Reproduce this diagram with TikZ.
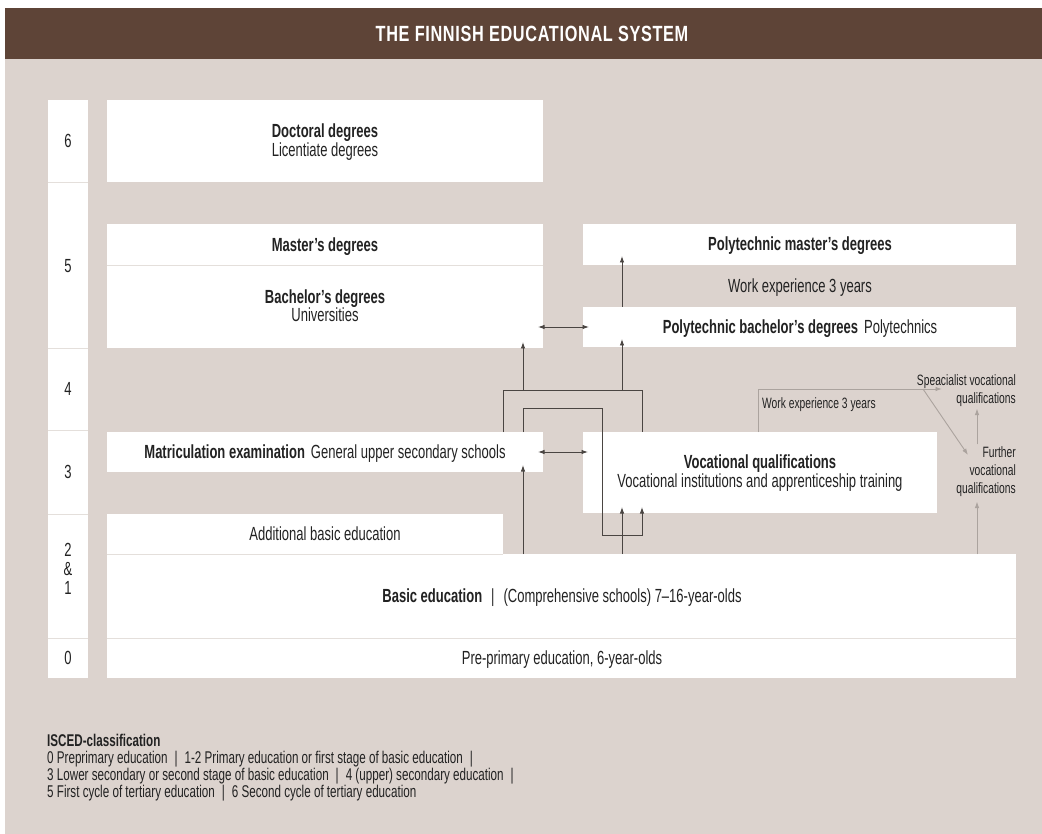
\documentclass[tikz,border=0pt]{standalone}
\usepackage{fontspec}
\setmainfont[FakeStretch=0.685]{Liberation Sans}
\newfontfamily\titlefont[FakeStretch=0.74,LetterSpace=3]{Liberation Sans}
\usetikzlibrary{arrows.meta,calc}
\definecolor{hdr}{HTML}{5E4437}
\definecolor{tanbg}{HTML}{DCD3CE}
\definecolor{ink}{HTML}{222222}
\definecolor{lnk}{HTML}{4A4542}
\definecolor{lgt}{HTML}{ABA39E}
\definecolor{sepc}{HTML}{E4DFDB}
\begin{document}
\begin{tikzpicture}[x=1pt,y=-1pt,
  wbox/.style={fill=white, draw=none, inner sep=0, outer sep=0},
  tm/.style={font=\fontsize{19}{20}\selectfont, text=ink, inner sep=0, text height=13.6pt, text depth=0pt},
  ts/.style={font=\fontsize{15}{18}\selectfont, text=ink, inner sep=0, text height=10.7pt, text depth=0pt},
  tl/.style={font=\fontsize{17}{17}\selectfont, text=ink, inner sep=0, anchor=base west},
  sepl/.style={draw=sepc, line width=0.8pt},
  arr/.style={draw=lnk, line width=0.9pt, -{Latex[length=6.5pt,width=4.5pt]}},
  darr/.style={draw=lnk, line width=0.9pt, {Latex[length=6.5pt,width=4.5pt]}-{Latex[length=6.5pt,width=4.5pt]}},
  ln/.style={draw=lnk, line width=0.9pt},
  larr/.style={draw=lgt, line width=0.9pt, -{Latex[length=6.5pt,width=4.5pt]}},
]
\useasboundingbox (0,0) rectangle (1042,834);
\fill[white] (0,0) rectangle (1042,834);
\fill[tanbg] (5,59) rectangle (1042,834);
\fill[hdr] (5,8) rectangle (1042,59);
\node[font=\titlefont\fontsize{22}{24}\selectfont\bfseries, text=white, inner sep=0, text height=16pt, text depth=0pt] (title) at (532,33.5) {THE FINNISH EDUCATIONAL SYSTEM};

% boxes
\node[wbox, minimum width=40pt, minimum height=578pt] (col) at (68,389) {};
\node[wbox, minimum width=436pt, minimum height=82pt] (doc) at (325,141) {};
\node[wbox, minimum width=436pt, minimum height=41pt] (mas) at (325,244.5) {};
\node[wbox, minimum width=436pt, minimum height=83pt] (bac) at (325,306.5) {};
\node[wbox, minimum width=433pt, minimum height=41pt] (pmas) at (799.5,244.5) {};
\node[wbox, minimum width=433pt, minimum height=40pt] (pbac) at (799.5,327) {};
\node[wbox, minimum width=436pt, minimum height=40pt] (mat) at (325,452) {};
\node[wbox, minimum width=354pt, minimum height=81pt] (voc) at (760,472.5) {};
\node[wbox, minimum width=396pt, minimum height=40pt] (add) at (305,534) {};
\node[wbox, minimum width=909pt, minimum height=84pt] (bas) at (561.5,596) {};
\node[wbox, minimum width=909pt, minimum height=40pt] (pre) at (561.5,658) {};

% separators
\foreach \yy in {182,348,430,514,638} \draw[sepl] (48,\yy) -- (88,\yy);
\draw[sepl] (107,265) -- (543,265);
\draw[sepl] (107,554) -- (503,554);
\draw[sepl] (107,638) -- (1016,638);

% level numbers
\node[tm] (n6) at (68,141) {6};
\node[tm] (n5) at (68,266) {5};
\node[tm] (n4) at (68,389) {4};
\node[tm] (n3) at (68,472) {3};
\node[tm] (n2) at (68,550) {2};
\node[tm] (namp) at (68,569) {\&};
\node[tm] (n1) at (68,588) {1};
\node[tm] (n0) at (68,658) {0};

% box texts
\node[tm] (tdoc1) at (325,131) {\bfseries Doctoral degrees};
\node[tm] (tdoc2) at (325,150) {Licentiate degrees};
\node[tm] (tmas) at (325,245) {\bfseries Master’s degrees};
\node[tm] (tbac1) at (325,297) {\bfseries Bachelor’s degrees};
\node[tm] (tbac2) at (325,315) {Universities};
\node[tm] (tpmas) at (800,244) {\bfseries Polytechnic master’s degrees};
\node[tm] (twe1) at (800,286) {Work experience 3 years};
\node[tm] (tpbac) at (800,327) {\textbf{Polytechnic bachelor’s degrees}\hspace{6pt}Polytechnics};
\node[tm] (tmat) at (325,452) {\textbf{Matriculation examination}\hspace{6pt}General upper secondary schools};
\node[tm] (tvoc1) at (760,462) {\bfseries Vocational qualifications};
\node[tm] (tvoc2) at (760,481) {Vocational institutions and apprenticeship training};
\node[tm] (tadd) at (325,534) {Additional basic education};
\node[tm] (tbas) at (562,596) {\textbf{Basic education}\hspace{9pt}|\hspace{9pt}(Comprehensive schools) 7–16-year-olds};
\node[tm] (tpre) at (562,658) {Pre-primary education, 6-year-olds};

% small texts
\node[ts, anchor=west] (twe2) at (762,403) {Work experience 3 years};
\node[ts, anchor=east] (spec1) at (1016,380) {Speacialist vocational};
\node[ts, anchor=east] (spec2) at (1016,398) {qualifications};
\node[ts, anchor=east] (fur1) at (1016,452) {Further};
\node[ts, anchor=east] (fur2) at (1016,470) {vocational};
\node[ts, anchor=east] (fur3) at (1016,488) {qualifications};

% helper coordinates
\coordinate (xA) at (523,0);
\coordinate (xB) at (622,0);
\coordinate (xO) at (503,0);
\coordinate (xI) at (602,0);
\coordinate (xR) at (642,0);
\coordinate (xL) at (758,0);
\coordinate (xF) at (977,0);
\coordinate (yO) at (0,390);
\coordinate (yI) at (0,408);
\coordinate (yJ) at (0,535);
\coordinate (specTip) at (942,389);
\coordinate (diagS) at (923,389);
\coordinate (furTip) at (968,455);

% dark connectors
\draw[arr] (bas.north -| xA) -- ($(mat.south -| xA)+(0,-7)$);
\draw[arr] (bas.north -| xB) -- ($(voc.south -| xB)+(0,-6)$);
\draw[arr] (mat.north -| xA) |- (yI -| xI) |- (yJ -| xR) -- ($(voc.south -| xR)+(0,-6)$);
\draw[ln] (mat.north -| xO) |- (yO -| xR) -- (voc.north -| xR);
\draw[arr] (yO -| xA) -- ($(bac.south -| xA)+(0,-6)$);
\draw[arr] (yO -| xB) -- ($(pbac.south -| xB)+(0,-8)$);
\draw[arr] (pbac.north -| xB) -- ($(pmas.south -| xB)+(0,-9)$);
\draw[darr] ($(bac.east |- pbac.west)+(-5,0)$) -- ($(pbac.west)+(6,0)$);
\draw[darr] ($(mat.east)+(-5,0)$) -- ($(voc.west |- mat.east)+(5,0)$);

% light connectors
\draw[larr] (voc.north -| xL) |- (specTip);
\draw[larr] (diagS) -- (furTip);
\draw[larr] ($(fur1.north -| xF)+(0,-2)$) -- ($(spec2.south -| xF)+(0,5)$);
\draw[larr] (bas.north -| xF) -- ($(fur3.south -| xF)+(0,8)$);

% legend
\node[tl, font=\fontsize{17}{17}\selectfont\bfseries] (leg0) at (47,746) {ISCED-classification};
\node[tl] (leg1) at (47,763) {0 Preprimary education\hspace{7pt}|\hspace{7pt}1-2 Primary education or first stage of basic education\hspace{7pt}|};
\node[tl] (leg2) at (47,780) {3 Lower secondary or second stage of basic education\hspace{7pt}|\hspace{7pt}4 (upper) secondary education\hspace{7pt}|};
\node[tl] (leg3) at (47,797) {5 First cycle of tertiary education\hspace{7pt}|\hspace{7pt}6 Second cycle of tertiary education};
\end{tikzpicture}
\end{document}
